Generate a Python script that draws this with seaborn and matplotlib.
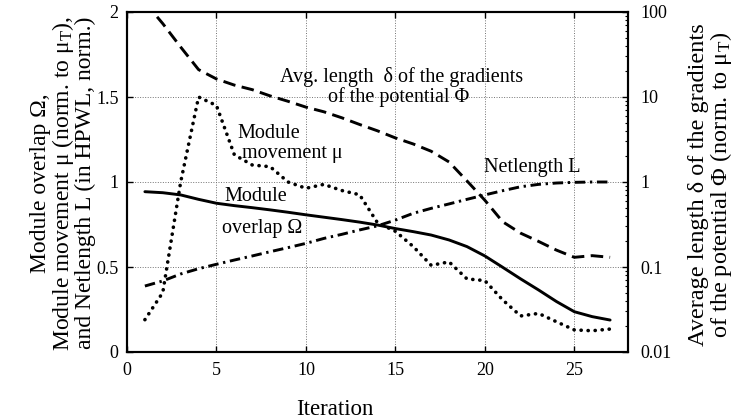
import matplotlib
matplotlib.use("Agg")
import matplotlib.pyplot as plt
import seaborn as sns
from matplotlib.ticker import FixedLocator, FixedFormatter, LogLocator, NullFormatter

# Placement iterations
iteration = list(range(1, 28))

# Module overlap Omega (left axis)
overlap = [0.943, 0.937, 0.924, 0.898, 0.875, 0.861, 0.849, 0.836, 0.822, 0.807,
           0.793, 0.779, 0.764, 0.747, 0.726, 0.708, 0.688, 0.659, 0.620, 0.565,
           0.498, 0.430, 0.365, 0.297, 0.237, 0.208, 0.188]

# Module movement mu, normalised to mu_T (left axis)
movement = [0.19, 0.35, 1.00, 1.50, 1.45, 1.16, 1.10, 1.09, 1.00, 0.963,
            0.986, 0.95, 0.925, 0.76, 0.71, 0.62, 0.51, 0.53, 0.43, 0.42,
            0.306, 0.212, 0.227, 0.178, 0.13, 0.125, 0.135]

# Netlength L in HPWL, normalised (left axis)
netlength = [0.388, 0.418, 0.459, 0.490, 0.516, 0.541, 0.565, 0.590, 0.614, 0.639,
             0.668, 0.692, 0.718, 0.742, 0.776, 0.816, 0.845, 0.871, 0.898, 0.924,
             0.949, 0.972, 0.986, 0.994, 0.998, 1.000, 1.000]

# Average gradient length delta of the potential Phi (right axis, log)
gradient = [130, 73, 38.7, 21.0, 16.3, 13.8, 12.2, 10.3, 8.9, 7.6,
            6.7, 5.7, 4.75, 4.0, 3.3, 2.8, 2.3, 1.72, 1.03, 0.61,
            0.34, 0.25, 0.20, 0.158, 0.13, 0.136, 0.13]

xticks = [0, 5, 10, 15, 20, 25]
left_ticks = [0, 0.5, 1, 1.5, 2]
left_labels = ["0", "0.5", "1", "1.5", "2"]
right_ticks = [0.01, 0.1, 1, 10, 100]
right_labels = ["0.01", "0.1", "1", "10", "100"]

sns.set_theme(style="white")
plt.rcParams.update({
    "font.family": ["Liberation Serif", "DejaVu Serif"],
    "mathtext.fontset": "custom",
    "mathtext.rm": "Liberation Serif",
    "mathtext.it": "Liberation Serif:italic",
    "mathtext.default": "regular",
    "axes.edgecolor": "black",
    "axes.linewidth": 1.5,
    "text.color": "black",
    "xtick.color": "black",
    "ytick.color": "black",
})

W, H = 740, 420
fig = plt.figure(figsize=(W / 100, H / 100), dpi=100)
ax = fig.add_axes([127 / W, 1 - 352 / H, 501 / W, 340 / H])

ax.grid(True, linestyle=(0, (1, 1.6)), color="0.45", linewidth=0.7)
ax.set_axisbelow(True)

sns.lineplot(x=iteration, y=overlap, ax=ax, color="black", linewidth=2.1,
             linestyle="-")
sns.lineplot(x=iteration, y=netlength, ax=ax, color="black", linewidth=2.1,
             linestyle=(0, (3.6, 1.6, 0.8, 1.6)))
sns.lineplot(x=iteration, y=movement, ax=ax, color="black", linewidth=2.6,
             linestyle=(0, (0.05, 1.9)), dash_capstyle="round")

ax2 = ax.twinx()
sns.lineplot(x=iteration, y=gradient, ax=ax2, color="black", linewidth=2.1,
             linestyle=(0, (4.3, 2.2)))

ax.set_xlim(0, 28)
ax.set_ylim(0, 2)
ax2.set_yscale("log")
ax2.set_ylim(0.01, 100)
ax2.set_xlim(0, 28)

ax.xaxis.set_major_locator(FixedLocator(xticks))
ax.yaxis.set_major_locator(FixedLocator(left_ticks))
ax.yaxis.set_major_formatter(FixedFormatter(left_labels))
ax2.yaxis.set_major_locator(FixedLocator(right_ticks))
ax2.yaxis.set_major_formatter(FixedFormatter(right_labels))
ax2.yaxis.set_minor_locator(LogLocator(base=10, subs=range(2, 10)))
ax2.yaxis.set_minor_formatter(NullFormatter())

ax.tick_params(axis="both", which="major", direction="in", length=4.5, width=1.0,
               labelsize=13, pad=6, top=True, bottom=True, left=True, right=False)
ax.tick_params(axis="x", pad=7)
ax2.tick_params(axis="y", which="major", direction="in", length=4.5, width=1.0,
                labelsize=13, pad=9, left=False, right=True)
ax2.tick_params(axis="y", which="minor", direction="in", length=2.5, width=0.8,
                left=False, right=True)

for a in (ax, ax2):
    a.set_xlabel("")
    a.set_ylabel("")
    for s in a.spines.values():
        s.set_linewidth(1.5)
        s.set_color("black")

# Curve annotations
fs = 14.5
ax.text(15.36, 1.59, "Avg. length  δ of the gradients", ha="center",
        va="baseline", fontsize=fs)
ax.text(15.2, 1.47, "of the potential Φ", ha="center", va="baseline", fontsize=fs)
ax.text(6.15, 1.259, "Module", ha="left", va="baseline", fontsize=fs)
ax.text(6.42, 1.141, "movement μ", ha="left", va="baseline", fontsize=fs)
ax.text(7.2, 0.89, "Module", ha="center", va="baseline", fontsize=fs)
ax.text(7.54, 0.70, "overlap Ω", ha="center", va="baseline", fontsize=fs)
ax.text(19.94, 1.06, "Netlength L", ha="left", va="baseline", fontsize=fs)

# Axis titles
fig.text(335 / W, 1 - 415 / H, "Iteration", ha="center", va="baseline",
         fontsize=16.5)
fig.text(63 / W, 1 - 183 / H,
         "Module overlap Ω,\nModule movement μ (norm. to μ$_T$),\n"
         "and Netlength L (in HPWL, norm.)",
         rotation=90, ha="center", va="center", multialignment="center",
         fontsize=17, linespacing=0.95)
fig.text(711 / W, 1 - 185 / H,
         "Average length δ of the gradients\nof the potential Φ (norm. to μ$_T$)",
         rotation=90, ha="center", va="center", multialignment="center",
         fontsize=17.5, linespacing=0.92)

fig.savefig("out.png", dpi=100)
